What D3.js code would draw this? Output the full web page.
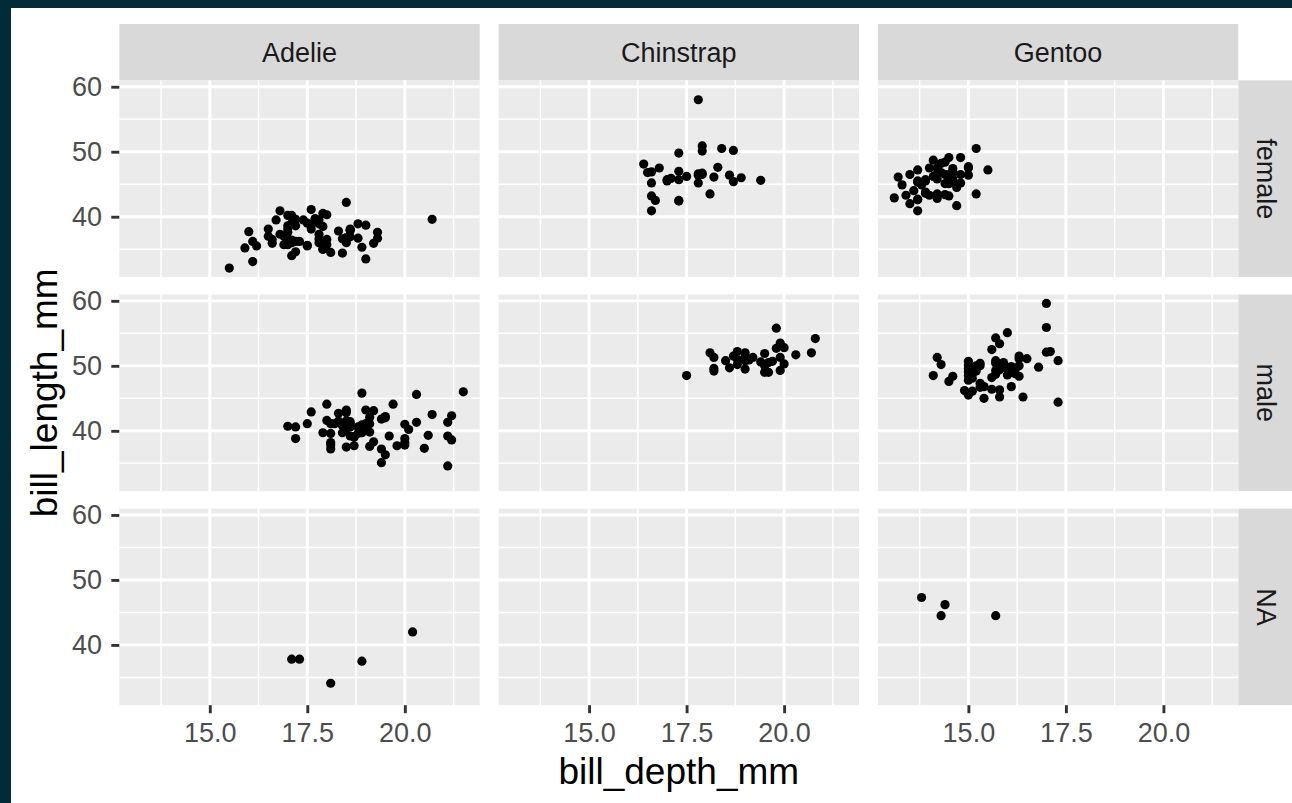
<!DOCTYPE html>
<html lang="en">
<head>
<meta charset="utf-8">
<script src="https://cdn.jsdelivr.net/npm/d3@7"></script>
<style>
  body { margin: 0; background: #022b3a; }
  svg { display: block; }
  text { font-family: "Liberation Sans", Arial, sans-serif; }
</style>
</head>
<body>
<svg id="chart" width="1292" height="803"></svg>
<script>
const species = ["Adelie", "Chinstrap", "Gentoo"];
const sexes = ["female", "male", "NA"];
const xTicks = [15, 17.5, 20];
const xMinor = [13.75, 16.25, 18.75, 21.25];
const yTicks = [40, 50, 60];
const yMinor = [35, 45, 55];

// points are [bill_depth_mm, bill_length_mm]
const adelieFemale = [
  [17.4,39.5],[18.0,40.3],[19.3,36.7],[17.8,38.9],[17.6,41.1],[17.8,36.6],[19.0,38.7],[18.4,34.4],
  [18.3,37.8],[19.2,35.9],[18.9,35.3],[17.9,40.5],[18.6,37.9],[16.7,39.5],[17.8,39.5],[17.0,36.4],
  [18.5,42.2],[19.3,37.6],[18.0,36.5],[18.5,36.0],[16.9,37.0],[17.9,36.0],[17.7,39.6],[17.9,35.0],
  [18.1,34.5],[17.5,39.0],[16.6,36.5],[16.9,35.7],[17.0,37.6],[17.1,36.4],[16.2,35.5],[16.6,35.9],
  [19.0,33.5],[17.2,39.6],[17.5,35.5],[16.8,40.9],[16.1,36.2],[17.2,34.6],[18.8,36.7],[17.8,37.3],
  [18.6,36.9],[18.8,38.9],[18.0,35.7],[17.1,34.0],[17.3,36.2],[18.6,38.1],[16.1,33.1],[17.9,35.0],
  [16.0,37.7],[18.6,37.9],[17.2,38.6],[17.0,38.1],[16.5,38.1],[17.7,39.7],[20.7,39.6],[17.0,38.6],
  [17.0,35.7],[17.2,36.2],[17.0,40.2],[15.9,35.2],[17.6,38.8],[17.1,39.0],[17.9,38.5],[18.5,36.8],
  [17.6,38.1],[17.5,35.6],[16.5,37.0],[17.1,40.2],[15.5,32.1],[16.8,37.3],[18.4,36.6],[17.8,36.0],
  [17.1,36.0]
];
const adelieMale = [
  [18.7,39.1],[20.6,39.3],[19.6,39.2],[21.2,38.6],[21.1,34.6],[20.7,42.5],[21.5,46.0],[18.7,37.7],
  [18.1,38.2],[17.2,38.8],[18.6,40.6],[18.9,40.5],[18.1,37.2],[18.9,40.9],[21.1,39.2],[20.0,38.8],
  [19.1,39.8],[18.4,40.8],[19.7,44.1],[18.8,39.6],[19.0,41.1],[21.2,42.3],[18.9,40.1],[19.5,42.0],
  [18.6,41.4],[18.8,40.6],[19.1,37.6],[21.1,41.3],[18.2,41.1],[18.0,41.6],[19.1,41.1],[19.4,41.8],
  [18.4,39.7],[18.9,45.8],[18.5,42.8],[19.4,37.2],[19.1,42.1],[17.6,42.9],[19.4,35.1],[20.3,41.3],
  [19.5,36.3],[19.2,38.3],[18.1,41.1],[18.1,39.6],[18.9,40.8],[18.5,40.3],[18.5,43.2],[20.0,41.0],
  [20.0,37.8],[18.9,39.7],[20.0,38.2],[19.0,43.2],[20.3,45.6],[19.5,42.2],[18.3,42.7],[20.5,37.3],
  [18.6,41.1],[19.8,37.7],[18.5,41.4],[19.0,40.6],[18.3,41.5],[18.0,44.1],[19.2,43.1],[18.5,37.5],
  [17.5,41.1],[20.1,40.2],[17.9,39.7],[17.2,40.6],[17.0,40.7],[18.7,39.0],[18.6,39.2],[18.1,37.8],
  [18.5,41.5]
];
const adelieNA = [[18.1,34.1],[20.2,42.0],[17.1,37.8],[17.3,37.8],[18.9,37.5]];

const chinstrapFemale = [
  [17.9,46.5],[18.7,45.4],[17.8,45.2],[18.2,46.1],[18.9,46.0],[17.8,46.6],[17.3,47.0],[17.1,45.9],
  [17.8,58.0],[18.6,46.4],[17.3,42.4],[16.6,43.2],[17.9,46.7],[18.4,50.5],[17.8,46.4],[16.6,40.9],
  [16.7,42.5],[16.8,47.5],[18.3,47.6],[16.6,46.9],[17.5,46.2],[17.0,45.5],[17.9,50.9],[17.9,50.1],
  [17.3,49.8],[16.4,48.1],[17.3,45.7],[17.3,42.5],[16.6,45.2],[19.4,45.6],[16.5,46.8],[17.0,45.7],
  [18.1,43.5],[18.7,50.2]
];
const chinstrapMale = [
  [19.5,50.0],[19.2,51.3],[19.8,52.7],[18.2,51.3],[19.9,51.3],[20.3,51.7],[18.1,52.0],[19.6,50.5],
  [20.0,50.3],[18.2,49.2],[17.5,48.5],[19.4,50.6],[19.0,52.0],[19.0,49.5],[20.0,52.8],[20.8,54.2],
  [18.8,51.0],[18.6,49.7],[20.7,52.0],[19.9,53.5],[19.5,49.0],[19.1,50.9],[18.5,50.8],[19.6,49.0],
  [18.7,51.5],[19.0,51.4],[19.7,50.7],[18.8,52.2],[19.9,49.3],[18.8,50.2],[19.5,51.9],[19.8,55.8],
  [18.2,49.6],[19.0,50.8]
];
const chinstrapNA = [];

const gentooFemale = [
  [13.2,46.1],[14.1,48.7],[13.5,46.5],[14.6,45.4],[13.4,43.3],[13.7,40.9],[13.7,45.5],[14.6,45.8],
  [13.5,42.0],[14.5,46.2],[14.5,45.1],[14.5,46.5],[13.1,42.9],[14.3,48.2],[14.2,42.8],[14.5,45.1],
  [14.8,49.1],[13.7,42.6],[13.6,44.0],[13.7,42.7],[13.7,45.3],[13.9,43.6],[13.9,45.5],[13.3,44.9],
  [14.2,46.6],[14.4,45.1],[14.4,46.5],[13.9,43.8],[14.5,43.2],[13.8,45.3],[13.9,45.7],[14.2,45.8],
  [14.2,43.5],[15.0,47.7],[14.8,46.5],[15.0,46.4],[14.2,47.5],[13.8,45.2],[14.5,49.1],[14.6,47.4],
  [13.8,44.9],[14.4,43.4],[14.0,47.5],[15.0,47.5],[14.5,45.5],[14.7,44.5],[14.6,46.9],[14.4,48.4],
  [15.5,47.2],[14.7,41.7],[14.0,43.3],[15.2,50.5],[15.2,43.5],[14.1,46.2],[13.7,47.2],[14.3,46.8],
  [14.8,45.2]
];
const gentooMale = [
  [16.3,50.0],[15.2,50.0],[14.5,47.6],[15.3,46.7],[15.4,46.8],[16.1,49.0],[14.6,48.4],[15.7,49.3],
  [15.2,49.2],[15.1,48.7],[14.3,50.2],[15.8,46.3],[15.1,46.1],[15.0,47.8],[15.3,50.0],[15.3,47.3],
  [17.0,59.6],[16.3,48.4],[17.3,44.4],[15.7,48.7],[16.0,49.6],[15.0,49.6],[15.9,50.5],[15.8,45.2],
  [14.1,48.5],[15.0,50.1],[15.4,45.0],[15.0,45.5],[15.3,50.4],[14.9,46.2],[15.7,54.3],[16.8,49.8],
  [16.2,49.5],[15.0,50.7],[15.6,46.4],[15.6,48.2],[16.0,48.6],[16.3,51.1],[16.4,45.2],[15.6,52.5],
  [15.9,50.0],[17.3,50.8],[14.2,51.3],[17.0,52.1],[17.1,52.2],[16.1,49.5],[15.7,50.8],[15.8,49.4],
  [16.5,51.1],[15.0,48.5],[17.0,55.9],[15.0,49.1],[16.1,46.8],[15.8,53.4],[15.1,48.1],[15.9,49.8],
  [16.3,51.5],[16.0,55.1],[16.2,48.8],[15.7,50.4],[16.1,49.9]
];
const gentooNA = [[14.3,44.5],[14.4,46.2],[13.8,47.3],[15.7,44.5]];

// facet table: rows = sex, cols = species
const facetData = [
  [adelieFemale, chinstrapFemale, gentooFemale],
  [adelieMale, chinstrapMale, gentooMale],
  [adelieNA, chinstrapNA, gentooNA]
];

const panelW = 360.4, panelH = 196.6;
const plotLeft = 119.3, plotTop = 80.4;
const colGap = 18.9, rowGap = 17.5;
const stripSize = 56.4;

const svg = d3.select("#chart");

// frame + white plot background
svg.append("rect").attr("width", 1292).attr("height", 803).attr("fill", "#022b3a");
svg.append("rect").attr("x", 11).attr("y", 8).attr("width", 1292 - 11).attr("height", 803 - 8).attr("fill", "#ffffff");

const x = d3.scaleLinear().domain([12.68, 21.92]).range([0, panelW]);
const y = d3.scaleLinear().domain([30.725, 60.975]).range([panelH, 0]);

const colX = i => plotLeft + i * (panelW + colGap);
const rowY = j => plotTop + j * (panelH + rowGap);

// top strips
species.forEach((s, i) => {
  const g = svg.append("g").attr("transform", `translate(${colX(i)},${plotTop - stripSize})`);
  g.append("rect").attr("width", panelW).attr("height", stripSize).attr("fill", "#d9d9d9");
  g.append("text")
    .attr("x", panelW / 2).attr("y", stripSize / 2).attr("dy", "0.35em")
    .attr("text-anchor", "middle").attr("font-size", 27).attr("fill", "#1a1a1a")
    .text(s);
});

// right strips
const stripX = colX(2) + panelW;
sexes.forEach((s, j) => {
  const g = svg.append("g").attr("transform", `translate(${stripX},${rowY(j)})`);
  g.append("rect").attr("width", stripSize).attr("height", panelH).attr("fill", "#d9d9d9");
  g.append("text")
    .attr("transform", `translate(${stripSize / 2},${panelH / 2}) rotate(90)`)
    .attr("dy", "0.35em")
    .attr("text-anchor", "middle").attr("font-size", 27).attr("fill", "#1a1a1a")
    .text(s);
});

// panels
sexes.forEach((sex, j) => {
  species.forEach((sp, i) => {
    const g = svg.append("g").attr("transform", `translate(${colX(i)},${rowY(j)})`);
    g.append("rect").attr("width", panelW).attr("height", panelH).attr("fill", "#ebebeb");

    g.selectAll(".vminor").data(xMinor).join("line")
      .attr("x1", d => x(d)).attr("x2", d => x(d)).attr("y1", 0).attr("y2", panelH)
      .attr("stroke", "#fff").attr("stroke-width", 1.45);
    g.selectAll(".hminor").data(yMinor).join("line")
      .attr("y1", d => y(d)).attr("y2", d => y(d)).attr("x1", 0).attr("x2", panelW)
      .attr("stroke", "#fff").attr("stroke-width", 1.45);
    g.selectAll(".vmajor").data(xTicks).join("line")
      .attr("x1", d => x(d)).attr("x2", d => x(d)).attr("y1", 0).attr("y2", panelH)
      .attr("stroke", "#fff").attr("stroke-width", 2.9);
    g.selectAll(".hmajor").data(yTicks).join("line")
      .attr("y1", d => y(d)).attr("y2", d => y(d)).attr("x1", 0).attr("x2", panelW)
      .attr("stroke", "#fff").attr("stroke-width", 2.9);

    g.selectAll("circle").data(facetData[j][i]).join("circle")
      .attr("cx", d => x(d[0])).attr("cy", d => y(d[1]))
      .attr("r", 4.6).attr("fill", "#000");

    if (i === 0) {
      const ax = g.append("g")
        .call(d3.axisLeft(y).tickValues(yTicks).tickSize(8).tickPadding(9.3).tickFormat(d3.format("d")));
      styleAxis(ax);
    }
    if (j === 2) {
      const ax = g.append("g").attr("transform", `translate(0,${panelH})`)
        .call(d3.axisBottom(x).tickValues(xTicks).tickSize(8).tickPadding(9.7).tickFormat(d3.format(".1f")));
      styleAxis(ax);
    }
  });
});

function styleAxis(ax) {
  ax.select(".domain").remove();
  ax.selectAll(".tick line").attr("stroke", "#333333").attr("stroke-width", 2.9);
  ax.selectAll(".tick text")
    .attr("fill", "#4d4d4d").attr("font-size", 27)
    .attr("font-family", "'Liberation Sans', Arial, sans-serif");
}

// axis titles
const plotMidX = plotLeft + (3 * panelW + 2 * colGap) / 2;
const plotMidY = plotTop + (3 * panelH + 2 * rowGap) / 2;
svg.append("text")
  .attr("x", plotMidX).attr("y", 784)
  .attr("text-anchor", "middle").attr("font-size", 37).attr("fill", "#000")
  .text("bill_depth_mm");
svg.append("text")
  .attr("transform", `translate(56.5,${plotMidY}) rotate(-90)`)
  .attr("text-anchor", "middle").attr("font-size", 37).attr("fill", "#000")
  .text("bill_length_mm");
</script>
</body>
</html>
